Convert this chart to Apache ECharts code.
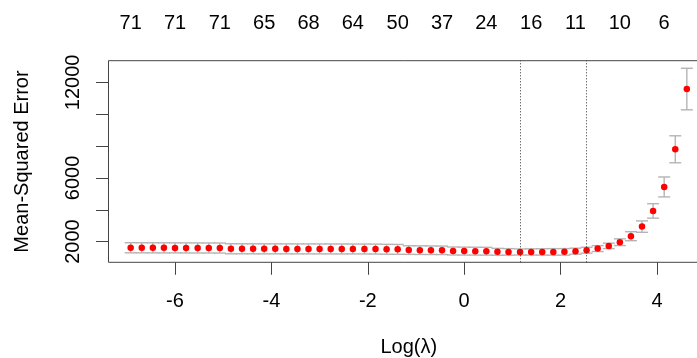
<!DOCTYPE html>
<html>
<head>
<meta charset="utf-8">
<script src="https://cdn.jsdelivr.net/npm/echarts@6/dist/echarts.min.js"></script>
<style>
  html, body { margin: 0; padding: 0; background: #fff; }
  #chart { width: 697px; height: 358px; }
</style>
</head>
<body>
<div id="chart"></div>
<script>
// log(lambda) of every fitted point
const logLambda = [-6.92, -6.69, -6.46, -6.23, -6.00, -5.77, -5.53, -5.30, -5.07, -4.84,
  -4.61, -4.38, -4.15, -3.92, -3.69, -3.46, -3.23, -3.00, -2.77, -2.54,
  -2.31, -2.07, -1.84, -1.61, -1.38, -1.15, -0.92, -0.69, -0.46, -0.23,
  0.00, 0.23, 0.46, 0.69, 0.92, 1.16, 1.39, 1.62, 1.85, 2.08,
  2.31, 2.54, 2.77, 3.00, 3.23, 3.46, 3.69, 3.92, 4.15, 4.38, 4.62];
// cross-validated mean squared error
const cvm = [1612, 1610, 1608, 1607, 1605, 1603, 1601, 1599, 1596, 1550,
  1548, 1546, 1545, 1544, 1543, 1542, 1541, 1540, 1539, 1538,
  1537, 1535, 1530, 1518, 1512, 1468, 1462, 1458, 1452, 1410,
  1404, 1400, 1396, 1360, 1354, 1348, 1350, 1352, 1354, 1356,
  1398, 1460, 1561, 1730, 1962, 2339, 2941, 3926, 5432, 7797, 11580];
// half length of the error bars
const cvsd = [318, 318, 317, 317, 316, 316, 316, 315, 315, 315,
  314, 314, 314, 314, 313, 313, 313, 312, 312, 312,
  311, 311, 311, 310, 310, 270, 270, 268, 266, 250,
  248, 246, 244, 215, 205, 190, 195, 200, 205, 205,
  190, 185, 185, 170, 210, 282, 358, 452, 627, 847, 1305];
// number of nonzero coefficients, shown on top every 4th point
const nzeroIdx = [0, 4, 8, 12, 16, 20, 24, 28, 32, 36, 40, 44, 48];
const nzero = [71, 71, 71, 65, 68, 64, 50, 37, 24, 16, 11, 10, 6];
const xTicks = [-6, -4, -2, 0, 2, 4];
const yTicks = [2000, 4000, 6000, 8000, 10000, 12000];
const yLabels = [2000, 6000, 12000];
const minIdx = 35, seIdx = 41;

const topX = nzeroIdx.map(function(i) { return logLambda[i]; });
const font = "'Liberation Sans', Arial, sans-serif";

const chart = echarts.init(document.getElementById('chart'));

const option = {
  animation: false,
  grid: {
    left: 108.5, top: 60.7, width: 600.5, height: 201.6,
    outerBoundsMode: 'none',
    containLabel: false,
    show: true, borderColor: '#444', borderWidth: 1, backgroundColor: 'transparent'
  },
  xAxis: [{
    type: 'value', min: -7.38, max: 5.08,
    name: 'Log(λ)', nameLocation: 'middle', nameGap: 75,
    nameTextStyle: { fontSize: 20, color: '#000', fontFamily: font },
    axisLine: { show: false, onZero: false },
    axisTick: { show: true, length: 12.5, customValues: xTicks, lineStyle: { color: '#444' } },
    axisLabel: { customValues: xTicks, margin: 29, fontSize: 20, color: '#000', fontFamily: font },
    splitLine: { show: false }
  }, {
    type: 'value', min: -7.38, max: 5.08, position: 'top',
    axisLine: { show: false, onZero: false },
    axisTick: { show: false },
    axisLabel: {
      customValues: topX, margin: 27, fontSize: 20, color: '#000', fontFamily: font,
      formatter: function(v) {
        let k = topX.indexOf(v);
        return k < 0 ? '' : String(nzero[k]);
      }
    },
    splitLine: { show: false }
  }],
  yAxis: {
    type: 'value', min: 700, max: 13360,
    name: 'Mean-Squared Error', nameLocation: 'middle', nameGap: 76,
    nameTextStyle: { fontSize: 20, color: '#000', fontFamily: font },
    axisLine: { show: false, onZero: false },
    axisTick: { show: true, length: 12.5, customValues: yTicks, lineStyle: { color: '#444' } },
    axisLabel: {
      customValues: yLabels, rotate: 90, margin: 25, fontSize: 20, color: '#000', fontFamily: font,
      formatter: function(v) { return String(v); }
    },
    splitLine: { show: false }
  },
  series: [{
    // error bars with caps
    type: 'custom',
    xAxisIndex: 0,
    data: logLambda.map(function(x, i) { return [x, cvm[i] - cvsd[i], cvm[i] + cvsd[i]]; }),
    renderItem: function(params, api) {
      let lo = api.coord([api.value(0), api.value(1)]);
      let hi = api.coord([api.value(0), api.value(2)]);
      let w = 6;
      let style = { stroke: '#b4b4b4', lineWidth: 1.4 };
      return {
        type: 'group',
        children: [
          { type: 'line', shape: { x1: lo[0], y1: lo[1], x2: hi[0], y2: hi[1] }, style: style },
          { type: 'line', shape: { x1: hi[0] - w, y1: hi[1], x2: hi[0] + w, y2: hi[1] }, style: style },
          { type: 'line', shape: { x1: lo[0] - w, y1: lo[1], x2: lo[0] + w, y2: lo[1] }, style: style }
        ]
      };
    },
    z: 2
  }, {
    type: 'scatter',
    xAxisIndex: 0,
    symbol: 'circle',
    symbolSize: 6.5,
    itemStyle: { color: '#ff0000', opacity: 1 },
    data: logLambda.map(function(x, i) { return [x, cvm[i]]; }),
    markLine: {
      silent: true,
      symbol: 'none',
      label: { show: false },
      lineStyle: { type: [1, 2], color: '#333', width: 1 },
      data: [{ xAxis: logLambda[minIdx] }, { xAxis: logLambda[seIdx] }]
    },
    z: 3
  }]
};

chart.setOption(option);
</script>
</body>
</html>
